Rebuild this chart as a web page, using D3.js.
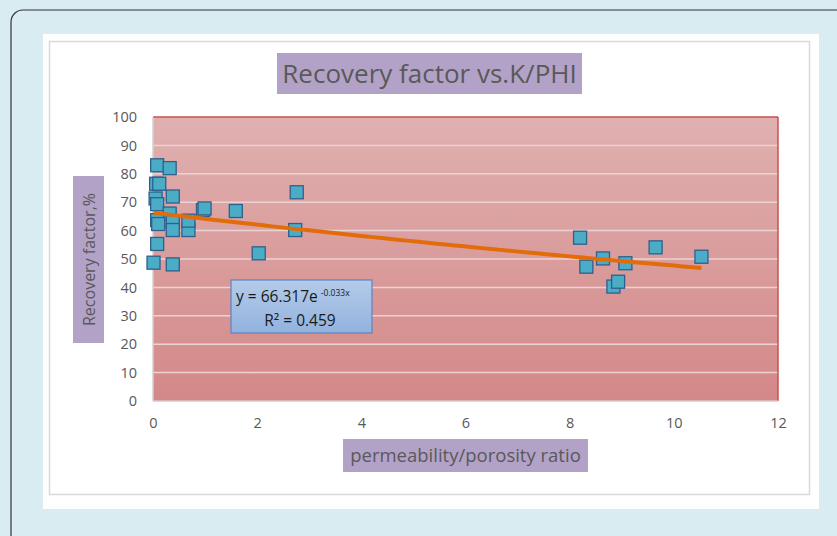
<!DOCTYPE html>
<html>
<head>
<meta charset="utf-8">
<script src="https://cdn.jsdelivr.net/npm/d3@7"></script>
<style>
  html, body { margin: 0; padding: 0; background: #d9ecf1; }
  svg { display: block; }
</style>
</head>
<body>
<svg id="chart" width="837" height="536"></svg>
<script>
// Permeability/porosity ratio (K/PHI) against recovery factor (%)
const kPhi = [0.08, 0.32, 0.06, 0.12, 0.38, 0.05, 0.08, 0.96, 0.99, 0.32, 0.08, 0.10, 0.38, 0.38, 0.68, 0.68, 0.08, 0.01, 0.38,
              1.59, 2.76, 2.73, 2.03,
              8.20, 8.32, 8.64, 9.07, 8.84, 8.93, 9.65, 10.53];
const recovery = [83, 82, 76.5, 76.5, 72, 71.3, 69.3, 67.2, 67.8, 66, 63.7, 62.3, 63, 60.2, 60.2, 63.5, 55.3, 48.7, 48.1,
                  66.9, 73.5, 60.2, 52,
                  57.5, 47.3, 50.2, 48.5, 40.3, 42, 54.1, 50.8];
const xTicks = [0, 2, 4, 6, 8, 10, 12];
const yTicks = [0, 10, 20, 30, 40, 50, 60, 70, 80, 90, 100];
// Exponential trend: y = a * e^(b x)
const trendA = 66.317;
const trendB = -0.033;
const trendR2 = 0.459;

const titleText = "Recovery factor vs.K/PHI";
const xLabel = "permeability/porosity ratio";
const yLabel = "Recovery factor,%";

const svg = d3.select("#chart");
const font = "'Open Sans', 'Noto Sans', sans-serif";
const grey = "#595959";

// outer frame
svg.append("rect").attr("x", 11).attr("y", 10).attr("width", 900).attr("height", 600)
  .attr("rx", 12).attr("fill", "#d9ecf1").attr("stroke", "#333").attr("stroke-width", 1.2);
svg.append("rect").attr("x", 43).attr("y", 34).attr("width", 776).attr("height", 475).attr("fill", "#fff");
svg.append("rect").attr("x", 49.5).attr("y", 41.5).attr("width", 760).attr("height", 453)
  .attr("fill", "none").attr("stroke", "#d9d9d9").attr("stroke-width", 1.5);

const plot = { left: 153, right: 778, top: 117, bottom: 401 };
const x = d3.scaleLinear().domain([0, 12]).range([plot.left, plot.right]);
const y = d3.scaleLinear().domain([0, 100]).range([plot.bottom, plot.top]);

const defs = svg.append("defs");
const grad = defs.append("linearGradient").attr("id", "plotBg").attr("x1", 0).attr("y1", 0).attr("x2", 0).attr("y2", 1);
grad.append("stop").attr("offset", "0%").attr("stop-color", "#e0b0b0");
grad.append("stop").attr("offset", "100%").attr("stop-color", "#d48888");
const boxGrad = defs.append("linearGradient").attr("id", "boxBg").attr("x1", 0).attr("y1", 0).attr("x2", 0).attr("y2", 1);
boxGrad.append("stop").attr("offset", "0%").attr("stop-color", "#b4cbe9");
boxGrad.append("stop").attr("offset", "100%").attr("stop-color", "#92b2dd");

svg.append("rect").attr("x", plot.left).attr("y", plot.top)
  .attr("width", plot.right - plot.left).attr("height", plot.bottom - plot.top)
  .attr("fill", "url(#plotBg)");

// gridlines
svg.append("g").selectAll("line").data(yTicks.filter(d => d > 0 && d < 100)).join("line")
  .attr("x1", plot.left).attr("x2", plot.right)
  .attr("y1", d => y(d)).attr("y2", d => y(d))
  .attr("stroke", "#ecd3d3").attr("stroke-width", 1.5);

// plot border: red top/right, grey left/bottom
svg.append("line").attr("x1", plot.left).attr("x2", plot.right).attr("y1", plot.top).attr("y2", plot.top)
  .attr("stroke", "#c9504d").attr("stroke-width", 1.5);
svg.append("line").attr("x1", plot.right).attr("x2", plot.right).attr("y1", plot.top).attr("y2", plot.bottom)
  .attr("stroke", "#c9504d").attr("stroke-width", 1.5);
svg.append("line").attr("x1", plot.left).attr("x2", plot.right).attr("y1", plot.bottom).attr("y2", plot.bottom)
  .attr("stroke", "#e0c4c4").attr("stroke-width", 1.5);
svg.append("line").attr("x1", plot.left).attr("x2", plot.left).attr("y1", plot.top).attr("y2", plot.bottom)
  .attr("stroke", "#d0d0d0").attr("stroke-width", 1.5);

// axes
const xAxis = svg.append("g").attr("transform", `translate(0,${plot.bottom})`)
  .call(d3.axisBottom(x).tickValues(xTicks).tickSize(0).tickPadding(17).tickFormat(d3.format("d")));
const yAxis = svg.append("g").attr("transform", `translate(${plot.left},0)`)
  .call(d3.axisLeft(y).tickValues(yTicks).tickSize(0).tickPadding(16).tickFormat(d3.format("d")));
[xAxis, yAxis].forEach(g => {
  g.select(".domain").remove();
  g.selectAll("text").attr("fill", grey).style("font-family", font).style("font-size", "14.5px");
});

// markers
svg.append("g").selectAll("rect").data(kPhi.map((k, i) => [k, recovery[i]])).join("rect")
  .attr("x", d => x(d[0]) - 6.5).attr("y", d => y(d[1]) - 6.5)
  .attr("width", 13).attr("height", 13)
  .attr("fill", "#4bacc6").attr("stroke", "#2f5f8c").attr("stroke-width", 1.3);

// exponential trendline across the data range
const [xMin, xMax] = d3.extent(kPhi);
const trendPts = d3.range(0, 61).map(i => {
  const xv = xMin + (xMax - xMin) * i / 60;
  return [xv, trendA * Math.exp(trendB * xv)];
});
svg.append("path").datum(trendPts)
  .attr("d", d3.line().x(d => x(d[0])).y(d => y(d[1])))
  .attr("fill", "none").attr("stroke", "#e36c0a").attr("stroke-width", 4);

// equation box
const eq = svg.append("g");
eq.append("rect").attr("x", 231).attr("y", 280).attr("width", 141).attr("height", 53)
  .attr("fill", "url(#boxBg)").attr("stroke", "#5b84c4").attr("stroke-width", 1.2);
const eqText = eq.append("text").attr("x", 236).attr("y", 302)
  .attr("fill", "#1a1a1a").style("font-family", font).style("font-size", "15.5px");
eqText.append("tspan").text(`y = ${trendA}e`);
eqText.append("tspan").attr("dy", -6).attr("dx", 3).style("font-size", "8.5px").text(`${trendB}x`);
eq.append("text").attr("x", 300).attr("y", 326).attr("text-anchor", "middle")
  .attr("fill", "#1a1a1a").style("font-family", font).style("font-size", "15.5px")
  .text(`R² = ${trendR2}`);

// title
svg.append("rect").attr("x", 277).attr("y", 53).attr("width", 305).attr("height", 41).attr("fill", "#b3a2c7");
svg.append("text").attr("x", 429.5).attr("y", 83).attr("text-anchor", "middle")
  .attr("fill", grey).style("font-family", font).style("font-size", "26px").text(titleText);

// axis titles
svg.append("rect").attr("x", 343).attr("y", 439).attr("width", 245).attr("height", 33).attr("fill", "#b3a2c7");
svg.append("text").attr("x", 465.5).attr("y", 462).attr("text-anchor", "middle")
  .attr("fill", grey).style("font-family", font).style("font-size", "18.5px").text(xLabel);

svg.append("rect").attr("x", 73).attr("y", 176).attr("width", 31).attr("height", 167).attr("fill", "#b3a2c7");
svg.append("text").attr("transform", "translate(95,259.5) rotate(-90)").attr("text-anchor", "middle")
  .attr("fill", grey).style("font-family", font).style("font-size", "16px").text(yLabel);
</script>
</body>
</html>
